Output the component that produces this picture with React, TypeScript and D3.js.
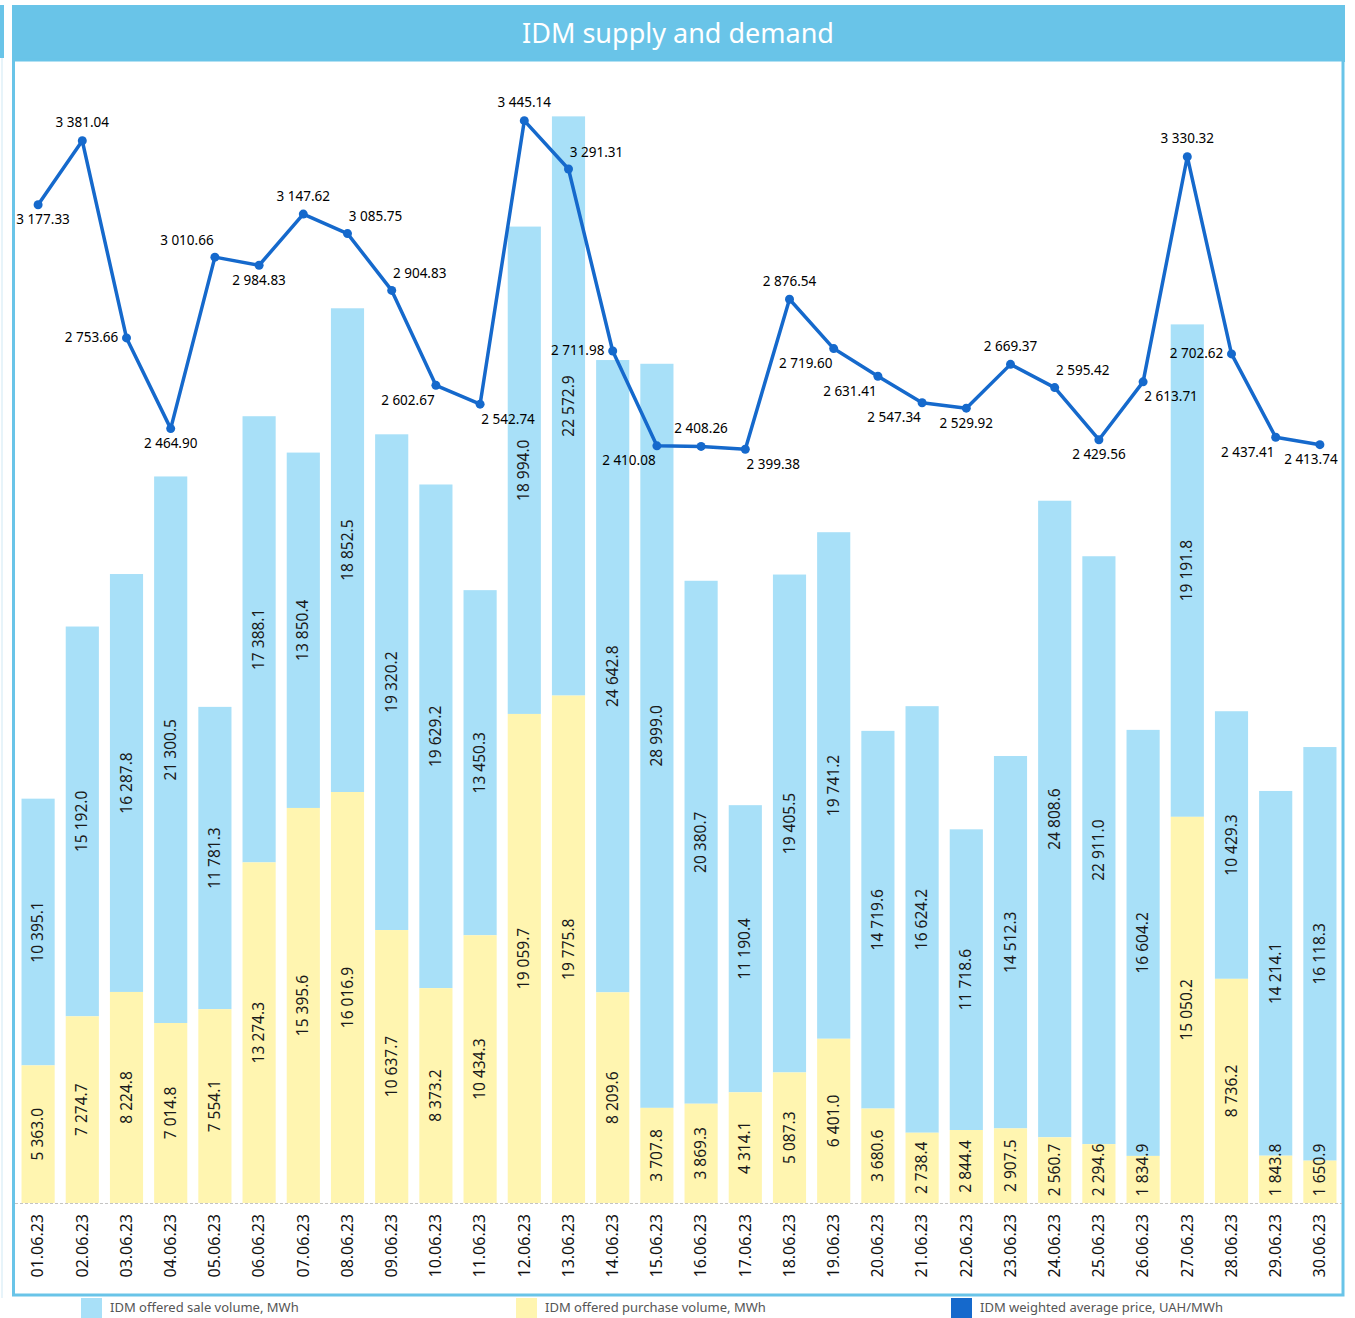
import React from 'react';
import * as d3 from 'd3';

const dates = [
  '01.06.23', '02.06.23', '03.06.23', '04.06.23', '05.06.23', '06.06.23', '07.06.23', '08.06.23', '09.06.23', '10.06.23',
  '11.06.23', '12.06.23', '13.06.23', '14.06.23', '15.06.23', '16.06.23', '17.06.23', '18.06.23', '19.06.23', '20.06.23',
  '21.06.23', '22.06.23', '23.06.23', '24.06.23', '25.06.23', '26.06.23', '27.06.23', '28.06.23', '29.06.23', '30.06.23',
];

// offered sale volume, MWh
const saleVolume = [
  10395.1, 15192.0, 16287.8, 21300.5, 11781.3, 17388.1, 13850.4, 18852.5, 19320.2, 19629.2,
  13450.3, 18994.0, 22572.9, 24642.8, 28999.0, 20380.7, 11190.4, 19405.5, 19741.2, 14719.6,
  16624.2, 11718.6, 14512.3, 24808.6, 22911.0, 16604.2, 19191.8, 10429.3, 14214.1, 16118.3,
];

// offered purchase volume, MWh
const purchaseVolume = [
  5363.0, 7274.7, 8224.8, 7014.8, 7554.1, 13274.3, 15395.6, 16016.9, 10637.7, 8373.2,
  10434.3, 19059.7, 19775.8, 8209.6, 3707.8, 3869.3, 4314.1, 5087.3, 6401.0, 3680.6,
  2738.4, 2844.4, 2907.5, 2560.7, 2294.6, 1834.9, 15050.2, 8736.2, 1843.8, 1650.9,
];

// weighted average price, UAH/MWh
const avgPrice = [
  3177.33, 3381.04, 2753.66, 2464.90, 3010.66, 2984.83, 3147.62, 3085.75, 2904.83, 2602.67,
  2542.74, 3445.14, 3291.31, 2711.98, 2410.08, 2408.26, 2399.38, 2876.54, 2719.60, 2631.41,
  2547.34, 2529.92, 2669.37, 2595.42, 2429.56, 2613.71, 3330.32, 2702.62, 2437.41, 2413.74,
];

// where each price label sits relative to its point
const priceLabelPos = [
  'bR', 't', 'l', 'b', 'tl', 'b', 't', 'tr', 'tr', 'bl',
  'br', 't', 'tr', 'l', 'bl', 't', 'br', 't', 'bl', 'bl',
  'bl', 'b', 't', 'tr', 'b', 'br', 't', 'l', 'bl', 'bL',
];

const W = 1355;
const H = 1318;
const baseY = 1203;
const FONT = '"Noto Sans", "Open Sans", sans-serif';

const SALE_COLOR = '#a8e0f8';
const BUY_COLOR = '#fff5b0';
const LINE_COLOR = '#1569cc';
const FRAME = '#69c4e8';

const loc = d3.formatLocale({ decimal: '.', thousands: ' ', grouping: [3], currency: ['', ''] });
const fmtVol = loc.format(',.1f');
const fmtPrice = loc.format(',.2f');

const offsets: Record<string, [number, number]> = {
  t: [0, -17],
  b: [0, 16],
  bR: [5, 16],
  bL: [-9, 16],
  l: [-35, 0],
  r: [35, 0],
  tl: [-28, -16],
  tr: [28, -16],
  bl: [-28, 16],
  br: [28, 16],
};

export default function App() {
  const x = d3.scaleBand<string>()
    .domain(dates)
    .range([16, 1342])
    .paddingInner(0.25)
    .paddingOuter(0.125);

  const yVol = d3.scaleLinear().domain([0, 44000]).range([baseY, 74]);
  const yPrice = d3.scaleLinear().domain([0, 3600]).range([baseY, 72]);

  const line = d3.line<number>()
    .x((_, i) => (x(dates[i]) as number) + x.bandwidth() / 2)
    .y(d => yPrice(d));

  const bw = x.bandwidth();

  return (
    <svg width={W} height={H} style={{ position: 'absolute', left: 0, top: 0, background: '#fff' }} fontFamily={FONT}>
      {/* sliver of neighbouring panel */}
      <rect x={0} y={5} width={4} height={53} fill={FRAME} />
      <line x1={2} y1={58} x2={2} y2={1298} stroke="#cfe9f5" strokeWidth={1} />

      {/* title band */}
      <rect x={12} y={5} width={1333} height={57} fill={FRAME} />
      <text x={678} y={36} fill="#fff" fontSize={27} textAnchor="middle" dominantBaseline="middle">
        IDM supply and demand
      </text>

      {/* frame */}
      <rect x={13.5} y={60} width={1329.5} height={1235} fill="#fff" stroke={FRAME} strokeWidth={3} />

      {/* bars */}
      {dates.map((d, i) => {
        const x0 = x(d) as number;
        const buyTop = yVol(purchaseVolume[i]);
        const saleTop = yVol(purchaseVolume[i] + saleVolume[i]);
        const cx = x0 + bw / 2;
        const buyLabel = fmtVol(purchaseVolume[i]);
        const saleLabel = fmtVol(saleVolume[i]);
        const buyLen = buyLabel.length * 8.3;
        const buyMid = Math.min((buyTop + baseY) / 2, baseY - 4 - buyLen / 2);
        const saleMid = (saleTop + buyTop) / 2;
        return (
          <g key={d}>
            <rect x={x0} y={saleTop} width={bw} height={buyTop - saleTop} fill={SALE_COLOR} />
            <rect x={x0} y={buyTop} width={bw} height={baseY - buyTop} fill={BUY_COLOR} />
            <text transform={`translate(${cx + 1},${saleMid}) rotate(-90)`} textAnchor="middle"
              dominantBaseline="middle" fontSize={15.5} fill="#1a1a1a">{saleLabel}</text>
            <text transform={`translate(${cx + 1},${buyMid}) rotate(-90)`} textAnchor="middle"
              dominantBaseline="middle" fontSize={15.5} fill="#1a1a1a">{buyLabel}</text>
            <text transform={`translate(${cx + 1},${baseY + 11}) rotate(-90)`} textAnchor="end"
              dominantBaseline="middle" fontSize={16} fill="#111">{d}</text>
          </g>
        );
      })}

      {/* baseline */}
      <line x1={15} x2={1342} y1={baseY + 0.5} y2={baseY + 0.5} stroke="#c4c4c4" strokeDasharray="3,2" />

      {/* price line */}
      <path d={line(avgPrice) || ''} fill="none" stroke={LINE_COLOR} strokeWidth={3.5} strokeLinejoin="round" />
      {avgPrice.map((p, i) => {
        const cx = (x(dates[i]) as number) + bw / 2;
        const cy = yPrice(p);
        const [dx, dy] = offsets[priceLabelPos[i]];
        return (
          <g key={'p' + i}>
            <circle cx={cx} cy={cy} r={4.5} fill={LINE_COLOR} />
            <text x={cx + dx} y={cy + dy} textAnchor="middle" dominantBaseline="middle"
              fontSize={13.5} fill="#000">{fmtPrice(p)}</text>
          </g>
        );
      })}

      {/* legend */}
      <rect x={81} y={1298} width={21} height={20} fill={SALE_COLOR} />
      <text x={110} y={1309} fontSize={13} fill="#555" dominantBaseline="middle">IDM offered sale volume, MWh</text>
      <rect x={516} y={1298} width={21} height={20} fill={BUY_COLOR} />
      <text x={545} y={1309} fontSize={13} fill="#555" dominantBaseline="middle">IDM offered purchase volume, MWh</text>
      <rect x={951} y={1298} width={21} height={20} fill={LINE_COLOR} />
      <text x={980} y={1309} fontSize={13} fill="#555" dominantBaseline="middle">IDM weighted average price, UAH/MWh</text>
    </svg>
  );
}
